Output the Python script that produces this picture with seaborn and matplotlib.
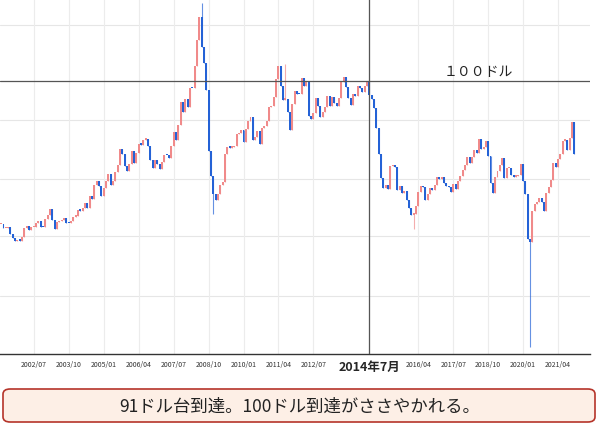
import numpy as np
import pandas as pd
import matplotlib
matplotlib.use("Agg")
import matplotlib.pyplot as plt
import seaborn as sns
from matplotlib.patches import FancyBboxPatch

# monthly closes, 2001/05 .. 2021/11
closes = [
    28.4, 26.3, 26.3, 27.2, 23.4, 21.2, 19.4, 19.8,
    19.5, 21.7, 26.3, 27.3, 25.3, 26.9, 27.0, 28.9, 30.4, 27.2, 26.9, 31.2,
    33.5, 36.6, 31.0, 25.8, 29.6, 30.2, 30.5, 31.6, 29.2, 29.1, 30.4, 32.5,
    33.1, 36.2, 35.8, 37.4, 39.9, 37.0, 43.8, 42.1, 49.6, 51.8, 49.1, 43.5,
    48.2, 51.8, 55.4, 49.7, 51.9, 56.5, 60.6, 68.9, 66.2, 59.8, 57.3, 61.0,
    67.9, 61.4, 66.6, 71.9, 71.3, 73.9, 74.4, 70.3, 62.9, 58.7, 63.1, 61.1,
    58.1, 61.8, 65.9, 65.7, 64.0, 70.7, 78.2, 74.0, 81.7, 94.5, 88.7, 96.0,
    91.8, 101.8, 101.6, 113.5, 127.4, 140.0, 124.1, 115.5, 100.6, 67.8, 54.4, 44.6,
    41.7, 44.8, 49.7, 51.1, 66.3, 69.9, 69.5, 70.0, 70.6, 77.0, 77.3, 79.4,
    72.9, 79.7, 83.8, 86.2, 74.0, 75.6, 78.4, 71.9, 80.0, 81.4, 84.1, 91.4,
    92.2, 97.0, 106.7, 113.9, 102.7, 95.4, 95.7, 88.8, 79.2, 93.2, 100.4, 98.8,
    98.5, 107.1, 103.0, 104.9, 86.5, 85.0, 88.1, 96.5, 92.2, 86.2, 88.9, 91.8,
    97.5, 92.1, 97.2, 93.5, 92.0, 96.6, 105.0, 107.7, 102.3, 96.4, 92.7, 98.4,
    97.5, 102.6, 101.6, 99.7, 102.7, 105.4, 98.2, 96.0, 91.2, 80.5, 66.2, 53.3,
    48.2, 49.8, 47.6, 59.6, 60.3, 59.5, 47.1, 49.2, 45.1, 46.6, 41.7, 37.0,
    33.6, 33.8, 38.3, 45.9, 49.1, 48.3, 41.6, 44.7, 48.2, 46.9, 49.4, 53.7,
    52.8, 54.0, 50.6, 49.3, 48.3, 46.0, 50.2, 47.2, 51.7, 54.4, 57.4, 60.4,
    64.7, 61.6, 64.9, 68.6, 67.0, 74.2, 68.8, 69.8, 73.3, 65.3, 50.9, 45.4,
    53.8, 57.2, 60.1, 63.9, 53.5, 58.5, 58.6, 55.1, 54.1, 54.2, 55.2, 61.1,
    51.6, 44.8, 20.5, 18.8, 35.5, 39.3, 40.3, 42.6, 40.2, 35.8, 45.3, 48.5,
    52.2, 61.5, 59.2, 63.6, 66.3, 73.5, 73.9, 68.5, 75.0, 83.6, 66.2,
]
# notable intramonth extremes (month index -> price)
extreme_highs = {86: 147.3, 122: 114.8}
extreme_lows = {91: 33.9, 177: 26.0, 227: -37.6}

tick_labels = ["2002/07", "2003/10", "2005/01", "2006/04", "2007/07", "2008/10",
               "2010/01", "2011/04", "2012/07", "2014年7月", "2016/04", "2017/07",
               "2018/10", "2020/01", "2021/04"]
tick_months = [14, 29, 44, 59, 74, 89, 104, 119, 134, 158, 179, 194, 209, 224, 239]

df = pd.DataFrame({"close": closes})
df["open"] = df["close"].shift(1).fillna(df["close"])
df["high"] = df[["open", "close"]].max(axis=1)
df["low"] = df[["open", "close"]].min(axis=1)
for k, v in extreme_highs.items():
    df.loc[k, "high"] = v
for k, v in extreme_lows.items():
    df.loc[k, "low"] = v
df["up"] = df["close"] >= df["open"]

sns.set_theme(style="white")
plt.rcParams["font.family"] = ["Noto Sans CJK JP", "DejaVu Sans"]

fig = plt.figure(figsize=(6, 4.27), dpi=100)
ax = fig.add_axes([0, 1 - 355 / 427, 590 / 600, 355 / 427])

for g in [-10, 22, 53, 84.5, 135.7]:
    ax.axhline(g, color="#e6e6e6", lw=0.8, zorder=0)
for m in tick_months:
    ax.axvline(m, color="#ececec", lw=0.8, zorder=0)

up_c, dn_c = "#f08a8a", "#2462d6"
x = np.arange(len(df))
colors = np.where(df["up"], up_c, dn_c)
ax.vlines(x, df["low"], df["high"], colors=colors, lw=0.8, alpha=0.7, zorder=2)
ax.bar(x, (df["close"] - df["open"]).abs().clip(lower=0.8),
       bottom=df[["open", "close"]].min(axis=1), width=0.85, color=colors,
       linewidth=0, edgecolor="none", zorder=3)

ax.axhline(105.5, color="#555555", lw=0.9, zorder=4)
ax.axvline(158, color="#555555", lw=0.9, zorder=4)
ax.text(190, 107, "１００ドル", fontsize=10, ha="left", va="bottom", color="#222222")

ax.set_xlim(-0.5, 252.7)
ax.set_ylim(-41.4, 149.7)
ax.set_yticks([])
ax.set_xticks(tick_months)
ax.set_xticklabels(tick_labels)
for lbl in ax.get_xticklabels():
    if "年" in lbl.get_text():
        lbl.set_fontsize(9)
        lbl.set_fontweight("bold")
    else:
        lbl.set_fontsize(5)
        lbl.set_color("#333333")
ax.tick_params(axis="x", length=0, pad=4)
for s in ["top", "right", "left"]:
    ax.spines[s].set_visible(False)
ax.spines["bottom"].set_color("#333333")
ax.spines["bottom"].set_linewidth(1.0)

box = FancyBboxPatch((3 / 600, 4 / 427), 592 / 600, 33 / 427,
                     boxstyle="round,pad=0,rounding_size=0.012",
                     transform=fig.transFigure, facecolor="#fdefe6",
                     edgecolor="#b5342a", lw=1.2)
fig.patches.append(box)
fig.text(300 / 600, 20.5 / 427, "91ドル台到達。100ドル到達がささやかれる。",
         fontsize=12.5, ha="center", va="center", color="#222222")

fig.savefig("out.png", dpi=100)
